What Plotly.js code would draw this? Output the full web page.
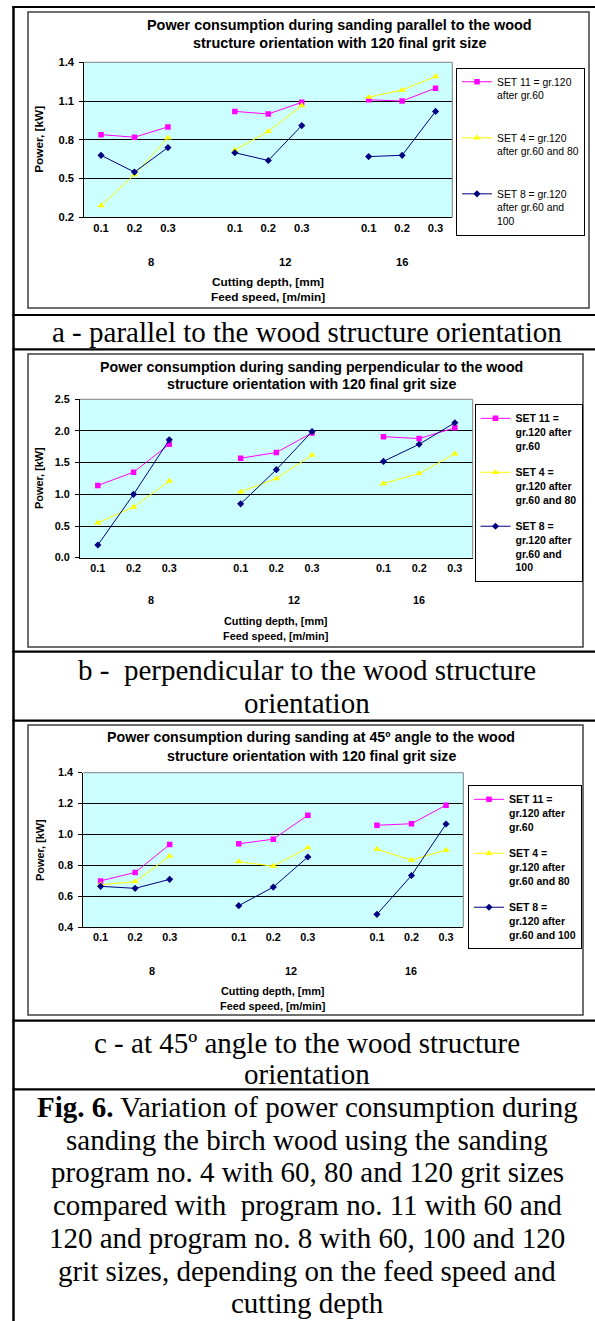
<!DOCTYPE html>
<html><head><meta charset="utf-8">
<script src="https://cdn.plot.ly/plotly-3.0.1.min.js"></script>
<style>html,body{margin:0;padding:0;background:#fff}#chart{width:595px;height:1321px}</style>
</head><body><div id="chart"></div>
<script>
// ---------- DATA ----------
const speeds = ['8', '12', '16'];          // Feed speed, [m/min]
const depths = ['0.1', '0.2', '0.3'];      // Cutting depth, [mm]

// a - parallel to the wood structure orientation
const set11Parallel = [0.84, 0.82, 0.90, 1.02, 1.00, 1.09, 1.11, 1.10, 1.20];
const set4Parallel  = [0.29, 0.53, 0.815, 0.72, 0.865, 1.065, 1.13, 1.185, 1.29];
const set8Parallel  = [0.68, 0.55, 0.74, 0.70, 0.64, 0.91, 0.67, 0.68, 1.02];

// b - perpendicular to the wood structure orientation
const set11Perp = [1.14, 1.35, 1.79, 1.57, 1.66, 1.97, 1.91, 1.88, 2.05];
const set4Perp  = [0.55, 0.80, 1.21, 1.04, 1.25, 1.62, 1.17, 1.33, 1.64];
const set8Perp  = [0.20, 1.00, 1.86, 0.85, 1.39, 1.99, 1.52, 1.79, 2.13];

// c - at 45º angle to the wood structure orientation
const set11Angle = [0.70, 0.755, 0.935, 0.94, 0.97, 1.125, 1.06, 1.07, 1.19];
const set4Angle  = [0.675, 0.695, 0.86, 0.825, 0.795, 0.915, 0.905, 0.835, 0.90];
const set8Angle  = [0.665, 0.652, 0.71, 0.54, 0.66, 0.855, 0.484, 0.735, 1.068];

const legendNamesA = ['SET 11 = gr.120<br>after gr.60', 'SET 4 = gr.120<br>after gr.60 and 80', 'SET 8 = gr.120<br>after gr.60 and<br>100'];
const legendNamesB = ['SET 11 =<br>gr.120 after<br>gr.60', 'SET 4 =<br>gr.120 after<br>gr.60 and 80', 'SET 8 =<br>gr.120 after<br>gr.60 and<br>100'];
const legendNamesC = ['SET 11 =<br>gr.120 after<br>gr.60', 'SET 4 =<br>gr.120 after<br>gr.60 and 80', 'SET 8 =<br>gr.120 after<br>gr.60 and 100'];

const titlesA = ['Power consumption during sanding parallel to the wood', 'structure orientation with 120 final grit size'];
const titlesB = ['Power consumption during sanding perpendicular to the wood', 'structure orientation with 120 final grit size'];
const titlesC = ['Power consumption during sanding at 45º angle to the wood', 'structure orientation with 120 final grit size'];
const yTitle = 'Power, [kW]';
const xTitle1 = 'Cutting depth, [mm]';
const xTitle2 = 'Feed speed, [m/min]';

const captionA = ['a - parallel to the wood structure orientation'];
const captionB = ['b -  perpendicular to the wood structure', 'orientation'];
const captionC = ['c - at 45º angle to the wood structure', 'orientation'];
const figCaption = [
  '<b>Fig. 6.</b> Variation of power consumption during',
  'sanding the birch wood using the sanding',
  'program no. 4 with 60, 80 and 120 grit sizes',
  'compared with  program no. 11 with 60 and',
  '120 and program no. 8 with 60, 100 and 120',
  'grit sizes, depending on the feed speed and',
  'cutting depth'
];

// ---------- BUILD ----------
const W = 595, H = 1321;
const px = v => v / W;
const py = v => 1 - v / H;

const cats = [], tickCats = [], tickText = [], groupCenters = [];
speeds.forEach((s, gi) => {
  const start = cats.length;
  depths.forEach(d => { cats.push(s + '|' + d); tickCats.push(s + '|' + d); tickText.push(d); });
  if (gi < speeds.length - 1) cats.push('gap' + s);
  groupCenters.push((start + cats.length - 1) / 2);
});
function expand(vals) {
  let k = 0;
  return cats.map(c => c.startsWith('gap') ? null : vals[k++]);
}

const colors = ['#FF00FF', '#FFFF00', '#000080'];
const symbols = ['square', 'triangle-up', 'diamond'];
const msizes = [5.5, 6.5, 5.5];

const SANS = 'Liberation Sans, Arial, sans-serif';
const SERIF = 'Liberation Serif, Times New Roman, serif';

const charts = [
  {sets: [set11Parallel, set4Parallel, set8Parallel], names: legendNamesA, ax: '', leg: 'legend',
   box: [28, 12, 589, 308], plot: [84.3, 62.3, 452.3, 217.3], range: [0.2, 1.4], dtick: 0.3,
   titles: titlesA, titleY: [25.5, 43.5], titleX: 339, fs: 11.2, tfs: 14.4, afs: 11.8,
   groupY: 261.7, xtY: [282, 297], ytX: 39,
   legend: {right: 585, top: 67.5, size: 10.4, bold: false, gap: 26}},
  {sets: [set11Perp, set4Perp, set8Perp], names: legendNamesB, ax: '2', leg: 'legend2',
   box: [28, 354, 583, 647], plot: [80, 399.3, 472.7, 557.7], range: [0, 2.5], dtick: 0.5,
   titles: titlesB, titleY: [366.7, 384.3], titleX: 311, fs: 10.8, tfs: 14.2, afs: 10.9,
   groupY: 600, xtY: [621, 636], ytX: 38.5,
   legend: {right: 582.5, top: 404, size: 10.5, bold: true, gap: 10}},
  {sets: [set11Angle, set4Angle, set8Angle], names: legendNamesC, ax: '3', leg: 'legend3',
   box: [28, 725, 583, 1015], plot: [83.3, 772.7, 463.3, 927.3], range: [0.4, 1.4], dtick: 0.2,
   titles: titlesC, titleY: [737.3, 755.7], titleX: 311, fs: 10.8, tfs: 14.2, afs: 10.9,
   groupY: 971, xtY: [990.7, 1006], ytX: 40,
   legend: {right: 582, top: 785, size: 10.5, bold: true, gap: 10}}
];

const data = [];
const layout = {
  width: W, height: H, margin: {l: 0, r: 0, t: 0, b: 0},
  paper_bgcolor: '#FFFFFF', plot_bgcolor: '#CCFFFF',
  font: {family: SANS, color: '#000000'},
  showlegend: true, hovermode: false,
  shapes: [], annotations: []
};

charts.forEach((c, ci) => {
  const xa = 'x' + c.ax, ya = 'y' + c.ax;
  c.sets.forEach((vals, si) => {
    data.push({
      type: 'scatter', mode: 'lines+markers',
      x: cats, y: expand(vals), name: c.names[si],
      xaxis: xa, yaxis: ya, legend: c.leg, legendgroup: c.leg + si,
      connectgaps: false,
      line: {color: colors[si], width: 1},
      marker: {symbol: symbols[si], size: msizes[si], color: colors[si], line: {width: 0}}
    });
  });
  const [pl, pt, pr, pb] = c.plot;
  layout['xaxis' + c.ax] = {
    domain: [px(pl), px(pr)], anchor: ya, type: 'category',
    categoryorder: 'array', categoryarray: cats, range: [-0.5, cats.length - 0.5],
    tickvals: tickCats, ticktext: tickText, ticks: '', ticklabelstandoff: 8.5,
    tickfont: {size: c.fs, weight: 'bold', family: SANS},
    showgrid: false, zeroline: false, showline: true, linecolor: '#000000', linewidth: 1,
    fixedrange: true
  };
  layout['yaxis' + c.ax] = {
    domain: [py(pb), py(pt)], anchor: xa, range: c.range, dtick: c.dtick, tick0: c.range[0],
    tickformat: '.1f', ticks: 'outside', ticklen: 4, tickcolor: '#000000', ticklabelstandoff: 3,
    tickfont: {size: c.fs, weight: 'bold', family: SANS},
    showgrid: true, gridcolor: '#000000', gridwidth: 1,
    zeroline: false, showline: true, linecolor: '#000000', linewidth: 1, fixedrange: true
  };
  layout[c.leg] = {
    xref: 'paper', yref: 'paper', x: px(c.legend.right), xanchor: 'right',
    y: py(c.legend.top), yanchor: 'top', bgcolor: '#FFFFFF', bordercolor: '#000000', borderwidth: 1,
    font: {size: c.legend.size, family: SANS, weight: c.legend.bold ? 'bold' : 'normal'},
    valign: 'top', traceorder: 'grouped', tracegroupgap: c.legend.gap, itemwidth: 30
  };
  // chart area border
  const [bl, bt, br, bb] = c.box;
  layout.shapes.push({type: 'rect', xref: 'paper', yref: 'paper', x0: px(bl), x1: px(br), y0: py(bb), y1: py(bt),
    line: {color: '#404040', width: 1.5}, fillcolor: 'rgba(0,0,0,0)', layer: 'below'});
  // plot area top/right border (gray)
  layout.shapes.push({type: 'line', xref: xa + ' domain', yref: ya + ' domain', x0: 0, x1: 1, y0: 1, y1: 1,
    line: {color: '#808080', width: 1}, layer: 'above'});
  layout.shapes.push({type: 'line', xref: xa + ' domain', yref: ya + ' domain', x0: 1, x1: 1, y0: 0, y1: 1,
    line: {color: '#808080', width: 1}, layer: 'above'});
  // titles
  c.titles.forEach((t, i) => layout.annotations.push({
    text: '<b>' + t + '</b>', xref: 'paper', yref: 'paper', x: px(c.titleX), y: py(c.titleY[i]),
    xanchor: 'center', yanchor: 'middle', showarrow: false, font: {size: c.tfs, family: SANS}
  }));
  // group labels (feed speed)
  speeds.forEach((s, gi) => layout.annotations.push({
    text: '<b>' + s + '</b>', xref: xa, yref: 'paper', x: groupCenters[gi], y: py(c.groupY),
    xanchor: 'center', yanchor: 'middle', showarrow: false, font: {size: c.fs, family: SANS}
  }));
  // x axis titles
  [xTitle1, xTitle2].forEach((t, i) => layout.annotations.push({
    text: '<b>' + t + '</b>', xref: xa + ' domain', yref: 'paper', x: 0.5, y: py(c.xtY[i]),
    xanchor: 'center', yanchor: 'middle', showarrow: false, font: {size: c.afs, family: SANS}
  }));
  // y axis title
  layout.annotations.push({
    text: '<b>' + yTitle + '</b>', xref: 'paper', yref: ya + ' domain', x: px(c.ytX), y: 0.5,
    xanchor: 'center', yanchor: 'middle', textangle: -90, showarrow: false, font: {size: c.afs, family: SANS}
  });
});

// table frame lines
const hLines = [7, 315, 349.3, 651.7, 720.7, 1020.7, 1089.3];
hLines.forEach(y => layout.shapes.push({type: 'line', xref: 'paper', yref: 'paper',
  x0: px(12.5), x1: 1, y0: py(y), y1: py(y), line: {color: '#000000', width: 2.2}}));
layout.shapes.push({type: 'line', xref: 'paper', yref: 'paper', x0: px(13.5), x1: px(13.5), y0: py(6), y1: 0,
  line: {color: '#000000', width: 2.5}});

// captions
const CAPX = 307, CAPFS = 29;
function addCaption(lines, ys) {
  lines.forEach((t, i) => layout.annotations.push({
    text: t, xref: 'paper', yref: 'paper', x: px(CAPX), y: py(ys[i]), xanchor: 'center', yanchor: 'middle',
    showarrow: false, font: {size: CAPFS, family: SERIF, color: '#000000'}
  }));
}
addCaption(captionA, [331.7]);
addCaption(captionB, [670, 703]);
addCaption(captionC, [1043, 1074]);
addCaption(figCaption, [1107, 1139.7, 1172.4, 1205.1, 1237.8, 1270.5, 1302.5]);

Plotly.newPlot('chart', data, layout, {displayModeBar: false, staticPlot: true});
</script></body></html>
